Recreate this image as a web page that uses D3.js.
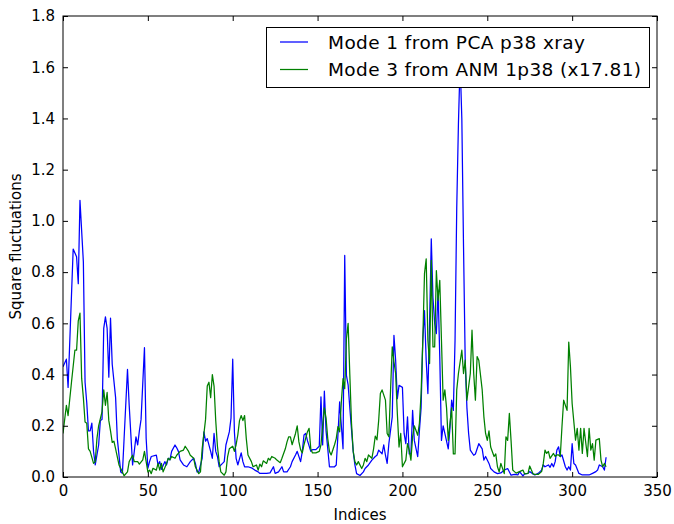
<!DOCTYPE html>
<html>
<head>
<meta charset="utf-8">
<script src="https://cdn.jsdelivr.net/npm/d3@7"></script>
<style>
  html, body { margin: 0; padding: 0; background: #fff; }
  svg { display: block; }
  text { font-family: "DejaVu Sans", sans-serif; fill: #000; }
</style>
</head>
<body>
<svg id="chart" width="674" height="524"></svg>
<script>
// ---- Data ----
const pcaIdx = [0,2,3,6,8,9,10,12,13,14,15,16,17,18,19,21,22,23,24,25,26,27,28,29,31,32,34,35,36,38,39,41,42,43,44,45,46,48,49,50,51,52,55,56,57,58,60,61,62,63,64,66,67,68,69,71,73,75,77,78,79,80,82,83,84,85,87,88,89,90,91,92,94,95,96,98,99,100,101,102,103,105,106,107,109,111,113,115,116,118,120,122,124,125,127,129,130,132,134,135,137,138,140,141,142,143,144,146,147,149,151,152,153,154,155,157,158,160,161,162,163,165,166,167,168,169,171,172,173,175,177,178,180,182,184,185,186,188,189,190,191,192,194,195,196,197,198,200,201,202,203,204,205,206,207,209,210,211,212,213,214,215,216,217,218,219,220,221,222,223,224,225,227,228,229,230,231,232,233,234,235,236,237,238,239,240,242,243,245,247,248,249,251,252,254,256,258,260,262,264,266,268,269,271,272,274,275,277,278,280,282,283,284,286,287,288,289,290,291,292,293,294,296,297,298,299,300,301,302,304,306,308,310,312,314,315,316,318,319,320];
const pcaVal = [0.43,0.46,0.35,0.89,0.86,0.755,1.08,0.84,0.37,0.29,0.18,0.18,0.21,0.10,0.047,0.125,0.22,0.225,0.58,0.625,0.58,0.39,0.62,0.44,0.31,0.15,0.02,0.015,0.15,0.42,0.28,0.047,0.10,0.157,0.125,0.18,0.225,0.505,0.15,0.034,0.06,0.08,0.085,0.047,0.06,0.03,0.06,0.047,0.073,0.067,0.10,0.125,0.114,0.10,0.067,0.047,0.04,0.06,0.073,0.053,0.02,0.02,0.073,0.176,0.14,0.15,0.10,0.073,0.17,0.10,0.08,0.04,0.053,0.06,0.125,0.176,0.23,0.46,0.176,0.073,0.047,0.094,0.06,0.04,0.04,0.036,0.027,0.02,0.014,0.014,0.014,0.016,0.04,0.014,0.02,0.04,0.02,0.02,0.04,0.06,0.086,0.10,0.06,0.10,0.164,0.17,0.143,0.10,0.107,0.107,0.12,0.313,0.125,0.335,0.18,0.04,0.04,0.04,0.047,0.164,0.293,0.11,0.865,0.397,0.36,0.27,0.10,0.047,0.013,0.006,0.02,0.033,0.047,0.066,0.08,0.085,0.105,0.09,0.125,0.085,0.053,0.13,0.235,0.553,0.456,0.306,0.358,0.35,0.17,0.13,0.235,0.09,0.09,0.26,0.143,0.08,0.18,0.27,0.534,0.65,0.456,0.326,0.60,0.93,0.70,0.60,0.56,0.73,0.47,0.143,0.20,0.17,0.11,0.19,0.30,0.26,0.534,1.05,1.38,1.62,1.40,0.90,0.45,0.27,0.17,0.105,0.085,0.09,0.13,0.11,0.066,0.08,0.053,0.033,0.02,0.013,0.016,0.027,0.033,0.007,0.01,0.008,0.021,0.004,0.012,0.014,0.021,0.012,0.008,0.014,0.027,0.047,0.04,0.047,0.038,0.053,0.04,0.06,0.105,0.118,0.08,0.086,0.04,0.027,0.04,0.027,0.13,0.053,0.047,0.014,0.008,0.008,0.008,0.014,0.021,0.027,0.047,0.04,0.027,0.077];

const anmIdx = [0,2,3,5,7,8,9,10,11,12,13,14,15,16,18,19,20,21,23,24,25,26,27,28,29,30,31,33,35,36,38,39,41,42,44,45,47,48,49,50,51,52,53,55,56,57,58,59,61,62,63,64,66,67,69,71,72,74,75,77,78,80,81,82,84,85,86,87,88,89,90,91,92,93,95,96,97,98,100,101,102,103,104,105,106,107,108,109,111,112,114,115,116,117,118,120,121,122,123,125,126,128,129,131,132,133,134,135,137,138,139,140,141,142,144,145,146,147,149,151,152,154,155,156,157,158,160,161,162,163,164,165,166,167,168,169,170,171,172,173,174,176,177,178,179,180,182,183,184,185,186,187,188,190,191,192,193,194,195,196,197,198,199,200,202,203,204,205,206,207,209,210,211,212,213,214,215,216,217,218,219,220,221,222,223,224,225,226,227,229,230,231,232,233,235,236,237,238,240,241,242,243,244,245,247,248,249,250,251,252,254,255,256,257,258,260,261,262,263,264,265,266,267,269,271,272,274,275,276,277,278,280,282,283,284,285,286,287,289,290,291,292,293,294,295,297,298,299,300,302,303,304,305,306,307,309,310,311,312,313,314,316,317,318,319,320];
const anmVal = [0.17,0.28,0.24,0.37,0.495,0.495,0.61,0.64,0.385,0.31,0.215,0.21,0.11,0.10,0.053,0.06,0.15,0.20,0.255,0.34,0.28,0.33,0.22,0.18,0.135,0.14,0.11,0.047,0.02,0.005,0.02,0.06,0.085,0.06,0.06,0.05,0.067,0.10,0.06,0.02,0.027,0.013,0.034,0.027,0.053,0.027,0.053,0.02,0.053,0.073,0.067,0.08,0.073,0.085,0.10,0.105,0.12,0.10,0.085,0.073,0.04,0.013,0.02,0.11,0.225,0.355,0.37,0.31,0.40,0.355,0.22,0.12,0.06,0.02,0.007,0.02,0.08,0.11,0.12,0.10,0.126,0.164,0.22,0.24,0.22,0.24,0.15,0.086,0.06,0.04,0.047,0.027,0.05,0.04,0.063,0.053,0.073,0.066,0.08,0.073,0.066,0.056,0.073,0.11,0.137,0.157,0.157,0.126,0.17,0.20,0.137,0.107,0.094,0.126,0.176,0.19,0.11,0.094,0.094,0.10,0.126,0.27,0.23,0.15,0.10,0.086,0.126,0.15,0.197,0.176,0.293,0.384,0.345,0.54,0.60,0.40,0.21,0.10,0.06,0.047,0.06,0.033,0.047,0.073,0.06,0.086,0.073,0.11,0.16,0.145,0.22,0.326,0.34,0.30,0.17,0.157,0.34,0.508,0.45,0.404,0.248,0.117,0.17,0.04,0.066,0.13,0.105,0.066,0.157,0.20,0.163,0.21,0.326,0.534,0.794,0.852,0.534,0.443,0.846,0.508,0.508,0.806,0.69,0.768,0.534,0.30,0.34,0.27,0.143,0.27,0.09,0.09,0.34,0.404,0.495,0.404,0.456,0.30,0.404,0.573,0.404,0.30,0.47,0.456,0.34,0.235,0.17,0.143,0.18,0.117,0.08,0.09,0.04,0.02,0.053,0.013,0.157,0.143,0.248,0.143,0.027,0.021,0.015,0.021,0.027,0.012,0.014,0.043,0.027,0.012,0.01,0.01,0.021,0.053,0.105,0.092,0.10,0.073,0.092,0.08,0.086,0.086,0.08,0.196,0.30,0.26,0.527,0.43,0.287,0.144,0.19,0.105,0.19,0.092,0.19,0.08,0.19,0.105,0.13,0.066,0.144,0.15,0.066,0.04,0.053,0.04];

const xTicks = [0,50,100,150,200,250,300,350];
const yTicks = [0.0,0.2,0.4,0.6,0.8,1.0,1.2,1.4,1.6,1.8];
const seriesNames = ["Mode 1 from PCA p38 xray", "Mode 3 from ANM 1p38 (x17.81)"];
const seriesColors = ["#0000ff", "#008000"];
const xLabel = "Indices";
const yLabel = "Square fluctuations";

// ---- Layout ----
const L = 63, R = 657, T = 16, B = 477;
const svg = d3.select("#chart");
const x = d3.scaleLinear().domain([0, 350]).range([L, R]);
const y = d3.scaleLinear().domain([0, 1.8]).range([B, T]);

svg.append("defs").append("clipPath").attr("id", "clip")
  .append("rect").attr("x", L).attr("y", T).attr("width", R - L).attr("height", B - T);

const series = [
  pcaIdx.map((d, i) => [d, pcaVal[i]]),
  anmIdx.map((d, i) => [d, anmVal[i]])
];
const line = d3.line().x(d => x(d[0])).y(d => y(d[1]));

const g = svg.append("g").attr("clip-path", "url(#clip)");
series.forEach((s, k) => {
  g.append("path").datum(s)
    .attr("d", line)
    .attr("fill", "none")
    .attr("stroke", seriesColors[k])
    .attr("stroke-width", 1.25)
    .attr("stroke-linejoin", "round");
});

// Axes (ticks inward on all four sides)
const tickLen = 5;
const fs = 15;
const axB = svg.append("g").attr("transform", `translate(0,${B})`)
  .call(d3.axisBottom(x).tickValues(xTicks).tickSize(-tickLen).tickPadding(8).tickFormat(d3.format("d")));
const axT = svg.append("g").attr("transform", `translate(0,${T})`)
  .call(d3.axisTop(x).tickValues(xTicks).tickSize(-tickLen).tickFormat(""));
const axL = svg.append("g").attr("transform", `translate(${L},0)`)
  .call(d3.axisLeft(y).tickValues(yTicks).tickSize(-tickLen).tickPadding(8).tickFormat(d3.format(".1f")));
const axR = svg.append("g").attr("transform", `translate(${R},0)`)
  .call(d3.axisRight(y).tickValues(yTicks).tickSize(-tickLen).tickFormat(""));
[axB, axT, axL, axR].forEach(a => {
  a.select(".domain").remove();
  a.selectAll(".tick line").attr("stroke", "#000").attr("stroke-width", 1);
  a.selectAll(".tick text").style("font-family", "DejaVu Sans").style("font-size", fs + "px").attr("fill", "#000");
});

// frame
svg.append("rect").attr("x", L).attr("y", T).attr("width", R - L).attr("height", B - T)
  .attr("fill", "none").attr("stroke", "#000").attr("stroke-width", 1);

// axis labels
svg.append("text").attr("x", (L + R) / 2).attr("y", 520).attr("text-anchor", "middle")
  .style("font-size", fs + "px").text(xLabel);
svg.append("text").attr("transform", `translate(21,${(T + B) / 2}) rotate(-90)`)
  .attr("text-anchor", "middle").style("font-size", fs + "px").text(yLabel);

// legend
const legendTextWidths = [257, 313];
const lg = svg.append("g");
lg.append("rect").attr("x", 266.5).attr("y", 27.5).attr("width", 383).attr("height", 60)
  .attr("fill", "#fff").attr("stroke", "#000").attr("stroke-width", 1);
seriesNames.forEach((name, k) => {
  const cy = 42 + k * 27.5;
  lg.append("line").attr("x1", 280).attr("x2", 308).attr("y1", cy).attr("y2", cy)
    .attr("stroke", seriesColors[k]).attr("stroke-width", 1.25);
  lg.append("text").attr("x", 328).attr("y", cy + 6.5).style("font-size", "18.5px")
    .attr("textLength", legendTextWidths[k]).attr("lengthAdjust", "spacing").text(name);
});
</script>
</body>
</html>
